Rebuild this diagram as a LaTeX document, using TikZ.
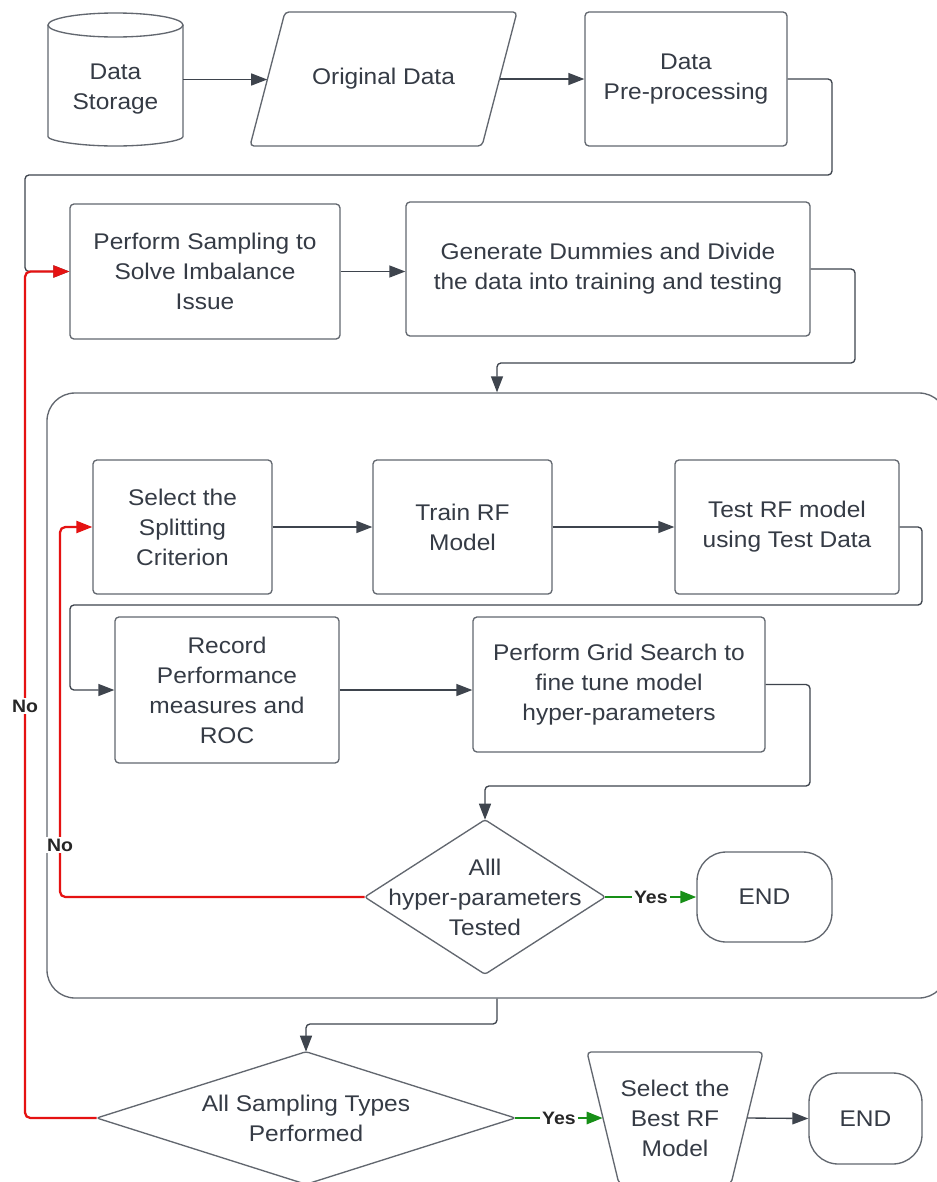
\documentclass[tikz,border=0pt]{standalone}
\usepackage{fontspec}
\setmainfont{Liberation Sans}[FakeStretch=1.08]
\usetikzlibrary{arrows.meta}
\definecolor{txtc}{HTML}{353B45}
\definecolor{bordc}{HTML}{62676F}
\definecolor{linec}{HTML}{3E444D}
\definecolor{nored}{HTML}{E51212}
\definecolor{yesgreen}{HTML}{178F17}
\newcommand\boxfont{\fontsize{17}{22.5}\selectfont}
\newcommand\tagfont{\fontsize{13.5}{16}\selectfont\bfseries}

\begin{document}
\begin{tikzpicture}[x=0.75pt,y=-0.75pt,
  sz/.style 2 args={minimum width=#1*0.75pt, minimum height=#2*0.75pt},
  box/.style={draw=bordc, line width=1pt, rounded corners=3pt, align=center,
              font=\boxfont, text=txtc, inner sep=0pt},
  plain/.style={align=center, font=\boxfont, text=txtc, inner sep=0pt},
  shapeline/.style={draw=bordc, line width=1pt, rounded corners=2pt},
  arrowend/.style={-{Triangle[length=12pt,width=9pt]}},
  conn/.style={draw=linec, line width=1pt, rounded corners=3pt, arrowend},
  noloop/.style={draw=nored, line width=1.7pt, rounded corners=4pt, arrowend},
  yesline/.style={draw=yesgreen, line width=2pt, arrowend},
  tag/.style={fill=white, text=black!85, font=\tagfont, inner sep=1.5pt}
]
\useasboundingbox (0,0) rectangle (937,1182);
\clip (0,0) rectangle (937,1182);
\fill[white] (0,0) rectangle (937,1182);

% ---- top row: storage, input data, pre-processing
\node[plain, sz={135}{134}] (store) at (115.5,79.5) {};
\draw[shapeline] (48,25) -- (48,134)
  arc[start angle=180, end angle=360, x radius=50.625pt, y radius=9pt]
  -- (183,25);
\draw[shapeline] (115.5,25) ellipse [x radius=50.625pt, y radius=9pt];
\node[plain] (storetext) at (115.5,89) {Data\\Storage};

\node[plain, sz={232}{134}] (orig) at (383.5,79) {Original Data};
\draw[shapeline, rounded corners=3pt] (285,12) -- (517,12) -- (482,146) -- (250,146) -- cycle;

\node[box, sz={202}{134}] (pre) at (686,79) {Data\\Pre-processing};

% ---- sampling and splitting
\node[box, sz={270}{135}] (samp) at (205,271.5) {Perform Sampling to\\Solve Imbalance\\Issue};
\node[box, sz={404}{134}] (gen) at (608,269) {Generate Dummies and Divide\\the data into training and testing};

% ---- model tuning group
\node[draw=bordc, line width=1pt, rounded corners=21pt, sz={900}{605}] (group) at (497,695.5) {};

\node[box, sz={179}{134}] (sel) at (182.5,527) {Select the\\Splitting\\Criterion};
\node[box, sz={179}{134}] (train) at (462.5,527) {Train RF\\Model};
\node[box, sz={224}{134}] (test) at (787,527) {Test RF model\\using Test Data};
\node[box, sz={224}{146}] (rec) at (227,690) {Record\\Performance\\measures and\\ROC};
\node[box, sz={292}{135}] (grid) at (619,684.5) {Perform Grid Search to\\fine tune model\\hyper-parameters};

\node[plain, sz={240}{154}] (dec1) at (485,897) {Alll\\hyper-parameters\\Tested};
\draw[shapeline] (dec1.north) -- (dec1.east) -- (dec1.south) -- (dec1.west) -- cycle;
\node[box, rounded corners=22pt, sz={135}{90}] (end1) at (764.5,897) {END};

% ---- final decision
\node[plain, sz={418}{132}] (dec2) at (306,1118) {All Sampling Types\\Performed};
\draw[shapeline] (dec2.north) -- (dec2.east) -- (dec2.south) -- (dec2.west) -- cycle;

\node[plain, sz={144}{132}] (best) at (675,1118) {Select the\\Best RF\\Model};
\draw[shapeline, rounded corners=3pt] (587,1052) -- (763,1052) -- (731,1184) -- (619,1184) -- cycle;
\node[box, rounded corners=22pt, sz={113}{91}] (end2) at (865.5,1118.5) {END};

% ---- connectors
\draw[conn] (store.east) -- (store.east -| orig.west);
\draw[conn] (orig.east) -- (pre.west);
\draw[conn] (pre.east) -- (832,79) -- (832,175) -- (25,175) -- (25,271.5) -- (samp.west);
\draw[conn] (samp.east) -- (samp.east -| gen.west);
\draw[conn] (gen.east) -- (855,269) -- (855,363) -- (497,363) -- (group.north);
\draw[conn] (sel.east) -- (train.west);
\draw[conn] (train.east) -- (test.west);
\draw[conn] (test.east) -- (922,527) -- (922,605) -- (70,605) -- (70,690) -- (rec.west);
\draw[conn] (rec.east) -- (rec.east -| grid.west);
\draw[conn] (grid.east) -- (810,684.5) -- (810,786) -- (485,786) -- (dec1.north);
\draw[conn] (group.south) -- (497,1024) -- (306,1024) -- (dec2.north);
\draw[conn] (best.east) -- (end2.west);

\draw[noloop] (dec1.west) -- (60,897) -- (60,527) -- (sel.west);
\node[tag] (no1) at (60,845) {No};
\draw[noloop] (dec2.west) -- (25,1118) -- (25,271.5) -- (samp.west);
\node[tag] (no2) at (25,706) {No};

\draw[yesline] (dec1.east) -- node[tag] (yes1) {Yes} (end1.west);
\draw[yesline] (dec2.east) -- node[tag] (yes2) {Yes} (best.west);
\end{tikzpicture}
\end{document}
